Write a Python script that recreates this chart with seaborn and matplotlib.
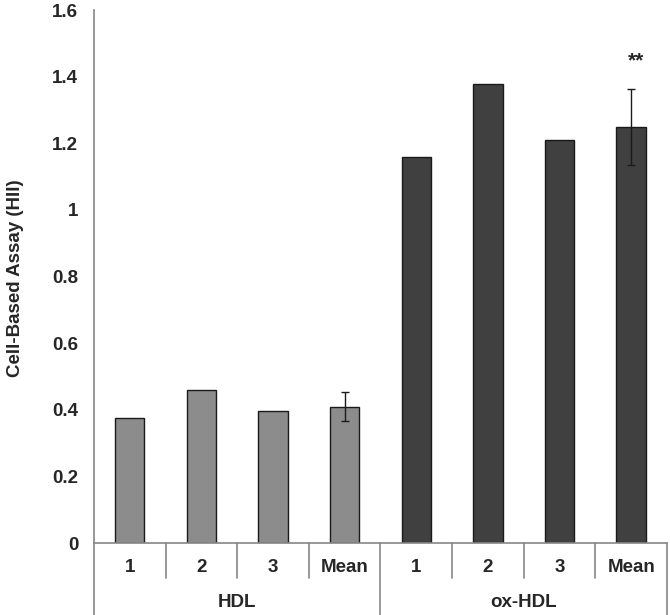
import pandas as pd
import matplotlib
matplotlib.use("Agg")
import matplotlib.pyplot as plt
import matplotlib.transforms as mtransforms
import seaborn as sns

# values
groups = ["HDL", "ox-HDL"]
samples = ["1", "2", "3", "Mean"]
hdl_values = [0.376, 0.458, 0.396, 0.409]
oxhdl_values = [1.158, 1.377, 1.210, 1.248]
mean_errors = [0.044, 0.114]
significance = "**"
y_ticks = [0, 0.2, 0.4, 0.6, 0.8, 1, 1.2, 1.4, 1.6]
y_tick_labels = ["0", "0.2", "0.4", "0.6", "0.8", "1", "1.2", "1.4", "1.6"]

df = pd.DataFrame({
    "key": [f"{g} {s}" for g in groups for s in samples],
    "group": [g for g in groups for s in samples],
    "sample": samples * 2,
    "value": hdl_values + oxhdl_values,
})

sns.set_style("white")
plt.rcParams["font.family"] = ["Liberation Sans", "DejaVu Sans"]
plt.rcParams["font.weight"] = "bold"

axis_grey = "#868686"
fs = 13.5

fig = plt.figure(figsize=(6.7, 6.15), dpi=100)
ax = fig.add_axes([0.1403, 0.117, 0.8552, 0.8667])

sns.barplot(data=df, x="key", y="value", hue="group",
            palette={"HDL": "#8c8c8c", "ox-HDL": "#404040"},
            dodge=False, width=0.41, edgecolor="#1a1a1a", linewidth=1.0,
            legend=False, ax=ax)

# error bars on the two mean bars
mean_pos = [df.index[(df.group == g) & (df["sample"] == "Mean")][0] for g in groups]
mean_vals = [hdl_values[-1], oxhdl_values[-1]]
ax.errorbar(mean_pos, mean_vals, yerr=mean_errors, fmt="none",
            ecolor="#1a1a1a", elinewidth=1.0, capsize=3, capthick=1.0)
ax.text(mean_pos[1] + 0.07, 1.447, significance, ha="center", va="center",
        fontsize=15, fontweight="bold")

ax.set_xlim(-0.5, len(df) - 0.5)
ax.set_ylim(0, 1.6)
ax.set_yticks(y_ticks)
ax.set_yticklabels(y_tick_labels, fontsize=fs, fontweight="bold")
ax.set_xticks([])
ax.set_xlabel("")
ax.set_ylabel("Cell-Based Assay (HII)", fontsize=fs, fontweight="bold")
ax.yaxis.set_label_coords(-0.123, 0.496)
ax.tick_params(axis="y", direction="out", length=4.3, width=1, color=axis_grey, pad=7)

for side in ["top", "right"]:
    ax.spines[side].set_visible(False)
for side in ["left", "bottom"]:
    ax.spines[side].set_color(axis_grey)
    ax.spines[side].set_linewidth(1.2)

# two-level category axis (Excel style)
trans = mtransforms.blended_transform_factory(ax.transData, ax.transAxes)
n = len(df)
for i in range(n + 1):
    x = i - 0.5
    outer = i % len(samples) == 0
    y_end = -0.135 if outer else -0.0657
    ax.plot([x, x], [0, y_end], color=axis_grey, lw=1.2, transform=trans, clip_on=False)
for i, s in enumerate(df["sample"]):
    ax.text(i, -0.045, s, transform=trans, ha="center", va="center",
            fontsize=fs, fontweight="bold")
for j, g in enumerate(groups):
    center = j * len(samples) + (len(samples) - 1) / 2
    ax.text(center, -0.111, g, transform=trans, ha="center", va="center",
            fontsize=fs, fontweight="bold")

fig.savefig("out.png", dpi=100)
